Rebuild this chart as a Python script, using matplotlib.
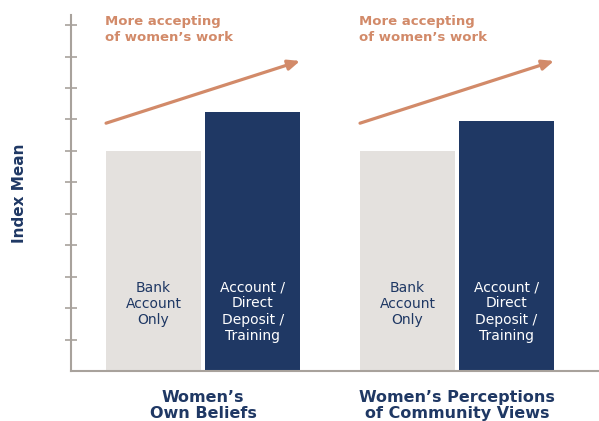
import numpy as np
import matplotlib.pyplot as plt

plt.rcParams['font.family'] = ['DejaVu Sans']

# data
groups = ["Women\u2019s\nOwn Beliefs", "Women\u2019s Perceptions\nof Community Views"]
bar_labels = ["Bank\nAccount\nOnly", "Account /\nDirect\nDeposit /\nTraining"]
bank_only = [7.0, 7.0]
full_program = [8.25, 7.95]
arrow_text = "More accepting\nof women\u2019s work"

navy = '#1f3864'
grey = '#e4e1de'
copper = '#d28a69'
axis_col = '#a8a29c'

fig = plt.figure(figsize=(5.99, 4.21), dpi=100)
ax = fig.add_axes([71/599, 50/421, 528/599, 356/421])

x = np.arange(len(groups))
w = 0.374
off = 0.195

ax.bar(x - off, bank_only, width=w, color=grey)
ax.bar(x + off, full_program, width=w, color=navy)

for xi in x:
    ax.text(xi - off, 2.13, bar_labels[0], ha='center', va='center',
            color=navy, fontsize=10, linespacing=1.2)
    ax.text(xi + off, 1.89, bar_labels[1], ha='center', va='center',
            color='white', fontsize=10, linespacing=1.2)
    # arrow
    ax.annotate('', xy=(xi + off + w/2, 9.86), xytext=(xi - off - w/2, 7.88),
                arrowprops=dict(arrowstyle='-|>,head_length=0.7,head_width=0.3',
                                color=copper, lw=2.3, shrinkA=0, shrinkB=0))
    ax.text(xi - off - w/2 - 0.005, 11.33, arrow_text, ha='left', va='top',
            color=copper, fontsize=9.5, fontweight='bold', linespacing=1.3)
    ax.text(xi, -1.09, groups[xi], ha='center', va='center', color=navy,
            fontsize=11.5, fontweight='bold', linespacing=1.1)

ax.set_xlim(-0.52, 1.559)
ax.set_ylim(0, 11.32)
ax.set_yticks(np.arange(1, 12))
ax.set_yticklabels([])
ax.set_xticks([])
ax.tick_params(axis='y', direction='inout', length=8, width=1.2, color=axis_col)
for s in ['top', 'right']:
    ax.spines[s].set_visible(False)
for s in ['left', 'bottom']:
    ax.spines[s].set_color(axis_col)
    ax.spines[s].set_linewidth(1.5)

fig.text(20/599, 1 - 193/421, 'Index Mean', rotation=90, ha='center', va='center',
         color=navy, fontsize=11, fontweight='bold')

fig.savefig('out.png', dpi=100)
